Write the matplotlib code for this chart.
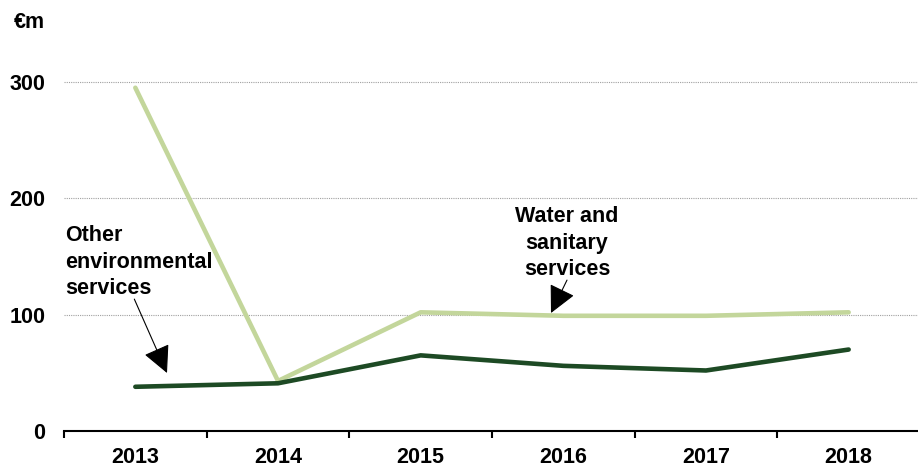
import matplotlib
matplotlib.use("Agg")
import matplotlib.pyplot as plt
from matplotlib.ticker import FixedLocator, NullFormatter

plt.rcParams['font.family'] = ['Liberation Sans', 'DejaVu Sans']
plt.rcParams['font.weight'] = 'bold'

years = ["2013", "2014", "2015", "2016", "2017", "2018"]
water_sanitary = [295, 43, 102, 99, 99, 102]
other_env = [38, 41, 65, 56, 52, 70]
y_ticks = [0, 100, 200, 300]

light_green = "#c3d69b"
dark_green = "#1d4a24"

fig = plt.figure(figsize=(9.18, 4.68), dpi=100)
ax = fig.add_axes([64 / 918, 1 - 431 / 468, 856 / 918, (431 - 47) / 468])

x = list(range(len(years)))
ax.plot(x, water_sanitary, color=light_green, lw=3.3, solid_capstyle="round",
        solid_joinstyle="round", zorder=3)
ax.plot(x, other_env, color=dark_green, lw=3.3, solid_capstyle="round",
        solid_joinstyle="round", zorder=4)

ax.set_xlim(-0.5, len(years) - 0.5)
ax.set_ylim(0, 330)

ax.set_xticks(x)
ax.set_xticklabels(years, fontsize=15.5, fontweight="bold")
ax.xaxis.set_minor_locator(FixedLocator([i - 0.5 for i in range(len(years) + 1)]))
ax.xaxis.set_minor_formatter(NullFormatter())
ax.tick_params(axis="x", which="major", length=0, pad=11.5)
ax.tick_params(axis="x", which="minor", length=5, width=1.5, direction="out", color="black")

ax.set_yticks(y_ticks)
ax.set_yticklabels([str(v) for v in y_ticks], fontsize=15.5, fontweight="bold")
ax.tick_params(axis="y", length=0, pad=13.5)

for v in y_ticks[1:]:
    ax.axhline(v, color="#a0a0a0", lw=0.8, ls=(0, (1, 1)), zorder=1)

for side in ("top", "right", "left"):
    ax.spines[side].set_visible(False)
ax.spines["bottom"].set_linewidth(1.5)

fig.text(14 / 918, 1 - 22 / 468, "€m", fontsize=15.5, fontweight="bold",
         ha="left", va="center")

ax.annotate("Other\nenvironmental\nservices", xy=(167, 468 - 373), xycoords="figure pixels",
            xytext=(65, 468 - 262), textcoords="figure pixels",
            fontsize=15.5, fontweight="bold", ha="left", va="center", linespacing=1.35,
            arrowprops=dict(arrowstyle="-|>,head_length=1.1,head_width=0.55",
                            color="black", lw=0.8, shrinkA=0, shrinkB=0,
                            patchA=None, relpos=(0.47, 0)))

ax.annotate("Water and\nsanitary\nservices", xy=(551, 468 - 313), xycoords="figure pixels",
            xytext=(567, 468 - 243), textcoords="figure pixels",
            fontsize=15.5, fontweight="bold", ha="center", va="center", linespacing=1.35,
            arrowprops=dict(arrowstyle="-|>,head_length=1.1,head_width=0.55",
                            color="black", lw=0.8, shrinkA=0, shrinkB=0,
                            patchA=None, relpos=(0.5, 0)))

fig.savefig("out.png", dpi=100)
